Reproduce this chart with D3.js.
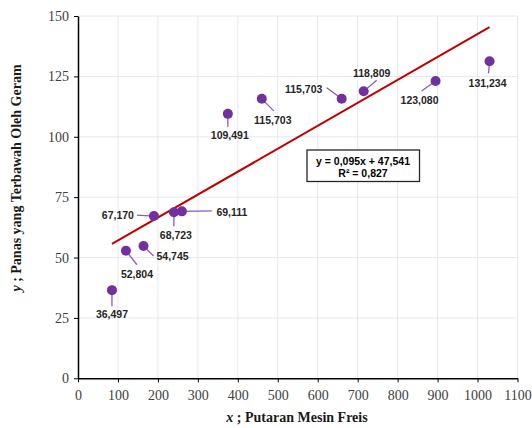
<!DOCTYPE html>
<html><head><meta charset="utf-8">
<script src="https://cdn.jsdelivr.net/npm/d3@7"></script>
<style>body{margin:0;background:#fff}</style>
</head><body>
<svg id="c" width="532" height="428"></svg>
<script>
const xVals = [85, 120, 164, 190, 240, 260, 375, 460, 660, 715, 895, 1030];
const yVals = [36.497, 52.804, 54.745, 67.170, 68.723, 69.111, 109.491, 115.703, 115.703, 118.809, 123.080, 131.234];
const pointLabels = ["36,497","52,804","54,745","67,170","68,723","69,111","109,491","115,703","115,703","118,809","123,080","131,234"];
// label offsets (dx, dy in px) relative to point, and leader end offsets
const labelOffsets = [[0,24],[11,23],[29,10],[-36,-1],[2,23],[50,1],[2,21],[11,21],[-38,-10],[8,-18],[-16,19],[-2,22]];
const leaderEnds = [[0,16],[11,14],[10,10],[-17,-1],[0,14],[30,-0.5],[0,13],[12,12],[-15,-11],[13,-11],[-14,10],[-1,12]];
const xTicks = [0,100,200,300,400,500,600,700,800,900,1000,1100];
const yTicks = [0,25,50,75,100,125,150];
const slope = 0.095, intercept = 47.541;
const eqText = ["y = 0,095x + 47,541", "R² = 0,827"];

const svg = d3.select("#c");
const x = d3.scaleLinear().domain([0,1100]).range([78,517.5]);
const y = d3.scaleLinear().domain([0,150]).range([378.3,16]);

// gridlines
svg.append("g").selectAll("line").data(xTicks.slice(1)).join("line")
  .attr("x1",d=>x(d)).attr("x2",d=>x(d)).attr("y1",y(0)).attr("y2",y(150))
  .attr("stroke","#e4e8f0").attr("stroke-width",1);
svg.append("g").selectAll("line").data(yTicks.slice(1)).join("line")
  .attr("x1",x(0)).attr("x2",x(1100)).attr("y1",d=>y(d)).attr("y2",d=>y(d))
  .attr("stroke","#e4e8f0").attr("stroke-width",1);

// axes
const xAxis = svg.append("g").attr("transform",`translate(0,${y(0)})`)
  .call(d3.axisBottom(x).tickValues(xTicks).tickSize(4).tickSizeOuter(0).tickFormat(d=>d));
const yAxis = svg.append("g").attr("transform",`translate(${x(0)},0)`)
  .call(d3.axisLeft(y).tickValues(yTicks).tickSize(4).tickSizeOuter(0).tickFormat(d=>d));
[xAxis,yAxis].forEach(a=>{
  a.select(".domain").attr("stroke","#000").attr("stroke-width",1.5);
  a.selectAll(".tick line").attr("stroke","#000").attr("stroke-width",1);
  a.selectAll("text").attr("font-family","'Liberation Serif', 'Times New Roman', serif")
    .attr("font-size",14).attr("fill","#404040");
});
xAxis.selectAll("text").attr("dy","1.05em");
yAxis.selectAll("text").attr("dx","-0.15em");

// trendline
const xmin = d3.min(xVals), xmax = d3.max(xVals);
svg.append("line").attr("x1",x(xmin)).attr("y1",y(slope*xmin+intercept))
  .attr("x2",x(xmax)).attr("y2",y(slope*xmax+intercept))
  .attr("stroke","#c00000").attr("stroke-width",2);

// leaders
const pts = xVals.map((v,i)=>({x:v,y:yVals[i],lab:pointLabels[i],i}));
svg.append("g").selectAll("line").data(pts).join("line")
  .attr("x1",d=>x(d.x)).attr("y1",d=>y(d.y))
  .attr("x2",d=>x(d.x)+leaderEnds[d.i][0]).attr("y2",d=>y(d.y)+leaderEnds[d.i][1])
  .attr("stroke","#8a5cb8").attr("stroke-width",1.3);

// points
svg.append("g").selectAll("circle").data(pts).join("circle")
  .attr("cx",d=>x(d.x)).attr("cy",d=>y(d.y)).attr("r",5)
  .attr("fill","#7030a0");

// labels
svg.append("g").selectAll("text").data(pts).join("text")
  .attr("x",d=>x(d.x)+labelOffsets[d.i][0]).attr("y",d=>y(d.y)+labelOffsets[d.i][1])
  .attr("text-anchor","middle").attr("dominant-baseline","central")
  .attr("font-family","'Liberation Sans', Arial, sans-serif").attr("font-weight","bold")
  .attr("font-size",10.5).attr("fill","#262626").text(d=>d.lab);

// equation box
svg.append("rect").attr("x",307).attr("y",150).attr("width",112.5).attr("height",31.5)
  .attr("fill","#fff").attr("stroke","#262626").attr("stroke-width",1.3);
svg.append("text").attr("x",363).attr("y",160.5).attr("text-anchor","middle").attr("dominant-baseline","central")
  .attr("font-family","'Liberation Sans', Arial, sans-serif").attr("font-weight","bold")
  .attr("font-size",10.5).attr("fill","#000").text(eqText[0]);
svg.append("text").attr("x",363).attr("y",173).attr("text-anchor","middle").attr("dominant-baseline","central")
  .attr("font-family","'Liberation Sans', Arial, sans-serif").attr("font-weight","bold")
  .attr("font-size",10.5).attr("fill","#000").text(eqText[1]);

// axis titles
const xt = svg.append("text").attr("x",297).attr("y",422).attr("text-anchor","middle")
  .attr("font-family","'Liberation Serif', 'Times New Roman', serif").attr("font-weight","bold")
  .attr("font-size",14).attr("fill","#1a1a1a");
xt.append("tspan").attr("font-style","italic").text("x");
xt.append("tspan").text(" ; Putaran Mesin Freis");
const yt = svg.append("text").attr("transform","translate(21,178) rotate(-90)").attr("text-anchor","middle")
  .attr("font-family","'Liberation Serif', 'Times New Roman', serif").attr("font-weight","bold")
  .attr("font-size",14).attr("fill","#1a1a1a");
yt.append("tspan").attr("font-style","italic").text("y");
yt.append("tspan").text(" ; Panas yang Terbawah Oleh Geram");
</script>
</body></html>
